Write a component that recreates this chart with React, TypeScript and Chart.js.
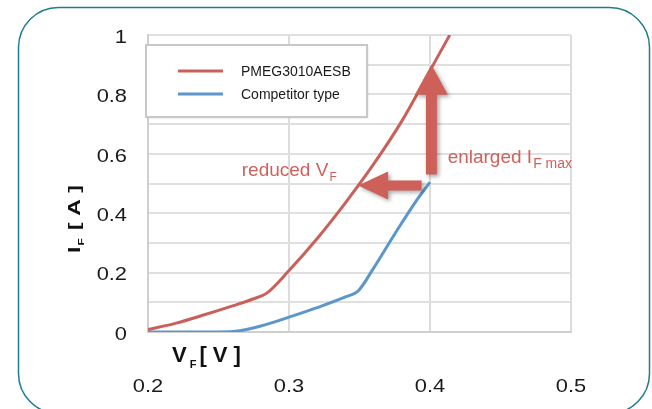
import React, { useEffect, useRef } from 'react';
import { Chart, registerables } from 'chart.js';

Chart.register(...registerables);

// ---------- data ----------
const seriesNames = ['PMEG3010AESB', 'Competitor type'];
const pmegV = [0.2, 0.22, 0.24, 0.26, 0.275, 0.284, 0.3, 0.32, 0.34, 0.36, 0.38, 0.4, 0.414];
const pmegI = [0.008, 0.03, 0.058, 0.088, 0.112, 0.13, 0.207, 0.315, 0.435, 0.565, 0.71, 0.88, 1.0];
const compV = [0.2, 0.25, 0.265, 0.28, 0.3, 0.32, 0.34, 0.349, 0.36, 0.375, 0.39, 0.4];
const compI = [0, 0, 0.004, 0.02, 0.05, 0.082, 0.118, 0.138, 0.215, 0.33, 0.44, 0.505];
const xTickLabels = ['0.2', '0.3', '0.4', '0.5'];
const yTickLabels = ['0', '0.2', '0.4', '0.6', '0.8', '1'];

// annotation arrows in data coordinates [V, I]
const arrowUpFrom = [0.401, 0.53];
const arrowUpTo = [0.401, 0.9];
const arrowLeftFrom = [0.394, 0.493];
const arrowLeftTo = [0.349, 0.493];
// annotation text anchors in data coordinates [V, I]
const reducedAt = [0.2665, 0.524];
const enlargedAt = [0.4125, 0.568];

const RED = '#c9605a';
const BLUE = '#5b96cc';
const ARROW = '#cd6159';
const TEXT_RED = '#d0615b';
const FONT = "'Liberation Sans', Arial, Helvetica, sans-serif";

function drawArrow(ctx: CanvasRenderingContext2D, x1: number, y1: number, x2: number, y2: number, shaftW: number, headW: number, headL: number) {
  const dx = x2 - x1, dy = y2 - y1;
  const len = Math.hypot(dx, dy);
  const ux = dx / len, uy = dy / len;
  const px = -uy, py = ux;
  const bx = x2 - ux * headL, by = y2 - uy * headL;
  ctx.beginPath();
  ctx.moveTo(x1 + px * shaftW / 2, y1 + py * shaftW / 2);
  ctx.lineTo(bx + px * shaftW / 2, by + py * shaftW / 2);
  ctx.lineTo(bx + px * headW / 2, by + py * headW / 2);
  ctx.lineTo(x2, y2);
  ctx.lineTo(bx - px * headW / 2, by - py * headW / 2);
  ctx.lineTo(bx - px * shaftW / 2, by - py * shaftW / 2);
  ctx.lineTo(x1 - px * shaftW / 2, y1 - py * shaftW / 2);
  ctx.closePath();
  ctx.fill();
}

const deco = {
  id: 'deco',
  beforeDraw(chart: any) {
    const ctx = chart.ctx as CanvasRenderingContext2D;
    ctx.save();
    ctx.fillStyle = '#ffffff';
    ctx.fillRect(0, 0, chart.width, chart.height);
    ctx.strokeStyle = '#1f7d8e';
    ctx.lineWidth = 1.5;
    ctx.beginPath();
    (ctx as any).roundRect(18.5, 7.5, 631, 406, 40);
    ctx.stroke();
    ctx.restore();
  },
  afterDatasetsDraw(chart: any) {
    const ctx = chart.ctx as CanvasRenderingContext2D;
    const xs = chart.scales.x, ys = chart.scales.y;
    const ca = chart.chartArea;
    ctx.save();
    // arrows
    ctx.fillStyle = ARROW;
    ctx.shadowColor = 'rgba(0,0,0,0.35)';
    ctx.shadowBlur = 4;
    ctx.shadowOffsetX = 2;
    ctx.shadowOffsetY = 2;
    drawArrow(ctx, xs.getPixelForValue(arrowUpFrom[0]), ys.getPixelForValue(arrowUpFrom[1]),
      xs.getPixelForValue(arrowUpTo[0]), ys.getPixelForValue(arrowUpTo[1]), 11, 33, 30);
    drawArrow(ctx, xs.getPixelForValue(arrowLeftFrom[0]), ys.getPixelForValue(arrowLeftFrom[1]),
      xs.getPixelForValue(arrowLeftTo[0]), ys.getPixelForValue(arrowLeftTo[1]), 10, 28, 30);
    ctx.shadowColor = 'transparent';
    ctx.shadowBlur = 0; ctx.shadowOffsetX = 0; ctx.shadowOffsetY = 0;

    // annotation texts
    ctx.fillStyle = TEXT_RED;
    ctx.textBaseline = 'alphabetic';
    ctx.textAlign = 'left';
    let x = xs.getPixelForValue(reducedAt[0]);
    let y = ys.getPixelForValue(reducedAt[1]);
    ctx.font = `19px ${FONT}`;
    ctx.fillText('reduced V', x, y);
    let w = ctx.measureText('reduced V').width;
    ctx.font = `12px ${FONT}`;
    ctx.fillText('F', x + w + 1, y + 5);

    x = xs.getPixelForValue(enlargedAt[0]);
    y = ys.getPixelForValue(enlargedAt[1]);
    ctx.font = `19px ${FONT}`;
    ctx.fillText('enlarged I', x, y);
    w = ctx.measureText('enlarged I').width;
    ctx.font = `14px ${FONT}`;
    ctx.fillText('F max', x + w + 1, y + 5);

    // legend
    const lx = ca.left - 2, ly = ca.top + 10, lw = 221, lh = 72;
    ctx.shadowColor = 'rgba(0,0,0,0.15)';
    ctx.shadowBlur = 2;
    ctx.shadowOffsetX = 1;
    ctx.shadowOffsetY = 1;
    ctx.fillStyle = '#ffffff';
    ctx.fillRect(lx, ly, lw, lh);
    ctx.shadowColor = 'transparent';
    ctx.shadowBlur = 0; ctx.shadowOffsetX = 0; ctx.shadowOffsetY = 0;
    ctx.strokeStyle = '#c8c8c8';
    ctx.lineWidth = 2;
    ctx.strokeRect(lx, ly, lw, lh);
    chart.data.datasets.forEach((ds: any, i: number) => {
      const yy = ly + 26 + i * 23;
      ctx.strokeStyle = ds.borderColor;
      ctx.lineWidth = 3;
      ctx.beginPath();
      ctx.moveTo(lx + 32, yy);
      ctx.lineTo(lx + 77, yy);
      ctx.stroke();
      ctx.fillStyle = '#1a1a1a';
      ctx.font = `14px ${FONT}`;
      ctx.textBaseline = 'middle';
      ctx.fillText(ds.label, lx + 95, yy + 1);
    });

    // tick labels
    ctx.fillStyle = '#1a1a1a';
    ctx.font = `19px ${FONT}`;
    ctx.textBaseline = 'middle';
    ctx.textAlign = 'right';
    yTickLabels.forEach((t) => {
      const py = ys.getPixelForValue(parseFloat(t));
      ctx.save();
      ctx.translate(ca.left - 21, py + 2.5);
      ctx.scale(1.15, 1);
      ctx.fillText(t, 0, 0);
      ctx.restore();
    });
    ctx.textAlign = 'center';
    xTickLabels.forEach((t) => {
      const px = xs.getPixelForValue(parseFloat(t));
      ctx.save();
      ctx.translate(px, ca.bottom + 54.5);
      ctx.scale(1.15, 1);
      ctx.fillText(t, 0, 0);
      ctx.restore();
    });

    // x axis title
    ctx.textAlign = 'left';
    ctx.textBaseline = 'alphabetic';
    ctx.fillStyle = '#111';
    let tx = ca.left + 24, ty = ca.bottom + 30;
    ctx.font = `bold 22px ${FONT}`;
    ctx.fillText('V', tx, ty);
    tx += ctx.measureText('V').width + 3;
    ctx.font = `bold 11px ${FONT}`;
    ctx.fillText('F', tx, ty + 6);
    tx += ctx.measureText('F').width + 3;
    ctx.font = `bold 22px ${FONT}`;
    ctx.fillText('[ V ]', tx, ty);

    // y axis title (rotated)
    ctx.save();
    ctx.translate(80, 253);
    ctx.rotate(-Math.PI / 2);
    ctx.scale(1, 0.7);
    let rx = 0;
    ctx.font = `bold 23px ${FONT}`;
    ctx.fillText('I', rx, 0);
    rx += ctx.measureText('I').width + 1;
    ctx.font = `bold 12px ${FONT}`;
    ctx.fillText('F', rx, 6);
    rx += ctx.measureText('F').width + 2;
    ctx.font = `bold 23px ${FONT}`;
    ctx.fillText(' [ A ]', rx, 0);
    ctx.restore();

    ctx.restore();
  },
};

export default function App() {
  const ref = useRef<HTMLCanvasElement>(null);
  useEffect(() => {
    if (!ref.current) return;
    const chart = new Chart(ref.current, {
      type: 'line',
      data: {
        datasets: [
          {
            label: seriesNames[0],
            data: pmegV.map((v, i) => ({ x: v, y: pmegI[i] })),
            borderColor: RED,
            backgroundColor: RED,
            borderWidth: 3,
            pointRadius: 0,
            cubicInterpolationMode: 'monotone',
          },
          {
            label: seriesNames[1],
            data: compV.map((v, i) => ({ x: v, y: compI[i] })),
            borderColor: BLUE,
            backgroundColor: BLUE,
            borderWidth: 3,
            pointRadius: 0,
            cubicInterpolationMode: 'monotone',
          },
        ],
      },
      options: {
        responsive: false,
        animation: false,
        layout: { padding: { left: 0, right: 81, top: 35, bottom: 0 } },
        plugins: { legend: { display: false }, tooltip: { enabled: false } },
        scales: {
          x: {
            type: 'linear',
            min: 0.2,
            max: 0.5,
            ticks: { display: false, stepSize: 0.1 },
            grid: { color: '#dcdcdc', lineWidth: 2, drawTicks: false },
            border: { color: '#cfcfcf', width: 2 },
            afterFit: (s: any) => { s.height = 77; },
          },
          y: {
            min: 0,
            max: 1,
            ticks: { display: false, stepSize: 0.1 },
            grid: { color: '#e0e0e0', lineWidth: 2, drawTicks: false },
            border: { color: '#cfcfcf', width: 2 },
            afterFit: (s: any) => { s.width = 148; },
          },
        },
      },
      plugins: [deco],
    } as any);
    return () => chart.destroy();
  }, []);
  return (
    <div style={{ position: 'absolute', left: 0, top: 0, width: 652, height: 409 }}>
      <canvas ref={ref} width={652} height={409} style={{ display: 'block' }} />
    </div>
  );
}
